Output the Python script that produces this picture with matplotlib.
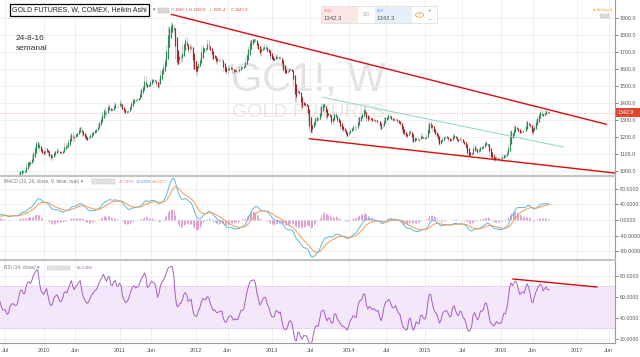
import numpy as np
import pandas as pd
import matplotlib
matplotlib.use('Agg')
import matplotlib.pyplot as plt
import matplotlib.dates as mdates
from matplotlib.patches import Rectangle, Circle

plt.rcParams['font.family'] = ['Liberation Sans', 'DejaVu Sans']

c2009 = [878, 853, 836, 899, 928, 913, 943, 1002, 942, 940, 930, 953, 923,
         898, 882, 869, 912, 884, 914, 930, 958, 979, 962, 939, 935, 940,
         929, 911, 937, 953, 954, 956, 947, 952, 956, 996, 1007, 1004, 991,
         1003, 1049, 1052, 1057, 1045, 1096, 1118, 1147, 1177, 1163, 1120, 1111, 1104]
c2010 = [1097, 1138, 1131, 1092, 1083, 1066, 1094, 1120, 1118, 1135, 1104, 1105, 1106,
         1126, 1162, 1136, 1156, 1180, 1210, 1230, 1177, 1213, 1219, 1228, 1256, 1256,
         1208, 1210, 1189, 1188, 1182, 1204, 1215, 1227, 1236, 1248, 1246, 1276, 1297,
         1318, 1346, 1372, 1325, 1357, 1397, 1367, 1352, 1363, 1406, 1385, 1379, 1380, 1420]
c2011 = [1368, 1360, 1343, 1340, 1349, 1360, 1388, 1409, 1430, 1420, 1419, 1429,
         1429, 1474, 1486, 1508, 1556, 1492, 1493, 1510, 1536, 1542, 1529, 1539, 1500,
         1487, 1541, 1592, 1601, 1628, 1663, 1744, 1852, 1828, 1877, 1856, 1813, 1658, 1624,
         1636, 1682, 1642, 1745, 1755, 1788, 1724, 1696, 1748, 1713, 1598, 1606, 1565]
c2012 = [1617, 1639, 1663, 1739, 1725, 1725, 1724, 1775, 1710, 1713, 1659, 1662, 1669,
         1631, 1659, 1642, 1663, 1645, 1580, 1592, 1573, 1622, 1592, 1627, 1572, 1598,
         1580, 1591, 1581, 1619, 1608, 1620, 1616, 1672, 1692, 1738, 1768, 1774, 1776,
         1780, 1757, 1724, 1712, 1676, 1733, 1714, 1750, 1714, 1703, 1696, 1657, 1656]
c2013 = [1649, 1661, 1687, 1658, 1669, 1667, 1609, 1581, 1576, 1578, 1592, 1608, 1596,
         1581, 1501, 1405, 1462, 1469, 1448, 1365, 1386, 1393, 1383, 1387, 1298, 1234,
         1223, 1277, 1295, 1323, 1309, 1313, 1375, 1395, 1396, 1387, 1308, 1326, 1338,
         1309, 1268, 1315, 1352, 1315, 1285, 1287, 1244, 1251, 1231, 1235, 1203, 1214]
c2014 = [1238, 1248, 1254, 1270, 1240, 1263, 1318, 1323, 1326, 1339, 1381, 1335, 1294,
         1304, 1319, 1293, 1300, 1302, 1288, 1293, 1292, 1246, 1253, 1275, 1315, 1316,
         1320, 1337, 1310, 1307, 1294, 1309, 1305, 1280, 1287, 1268, 1231, 1216, 1218,
         1192, 1222, 1239, 1232, 1171, 1168, 1186, 1201, 1175, 1191, 1222, 1195, 1195]
c2015 = [1189, 1216, 1276, 1292, 1278, 1234, 1227, 1204, 1212, 1164, 1152, 1183, 1199,
         1201, 1204, 1203, 1179, 1174, 1189, 1225, 1204, 1190, 1172, 1180, 1201, 1173,
         1163, 1157, 1131, 1086, 1094, 1093, 1113, 1159, 1133, 1121, 1103, 1137, 1145,
         1136, 1155, 1177, 1162, 1142, 1088, 1081, 1076, 1057, 1084, 1075, 1065, 1076]
c2016 = [1061, 1098, 1090, 1096, 1116, 1157, 1239, 1230, 1222, 1270, 1259, 1255, 1221,
         1222, 1240, 1234, 1233, 1294, 1290, 1273, 1252, 1212, 1243, 1275, 1298, 1322,
         1339, 1358, 1328, 1323, 1358, 1344, 1343, 1342.9]

closes = np.array(c2009 + c2010 + c2011 + c2012 + c2013 + c2014 + c2015 + c2016, float)
dates = pd.date_range('2009-01-02', periods=len(closes), freq='W-FRI')
xd = mdates.date2num(dates)

# heikin ashi
op = np.r_[closes[0], closes[:-1]]
ha_c = (op + closes) / 2.0
ha_o = np.zeros_like(ha_c)
ha_o[0] = ha_c[0]
for i in range(1, len(ha_c)):
    ha_o[i] = (ha_o[i - 1] + ha_c[i - 1]) / 2.0
ha_h = np.maximum.reduce([op, closes, ha_o, ha_c])
ha_l = np.minimum.reduce([op, closes, ha_o, ha_c])

# indicators on HA close
s = pd.Series(ha_c)
macd = s.ewm(span=12, adjust=False).mean() - s.ewm(span=26, adjust=False).mean()
signal = macd.ewm(span=9, adjust=False).mean()
hist = macd - signal
d = s.diff()
up = d.clip(lower=0).ewm(alpha=1/14, adjust=False).mean()
dn = (-d.clip(upper=0)).ewm(alpha=1/14, adjust=False).mean()
rsi = 100 - 100 / (1 + up / dn)

tick_dates = ['2009-07-01', '2010-01-01', '2010-06-01', '2011-01-01', '2011-06-01',
              '2012-01-01', '2012-06-01', '2013-01-01', '2013-07-01', '2014-01-01',
              '2014-07-01', '2015-01-01', '2015-07-01', '2016-01-01', '2016-06-01',
              '2017-01-01', '2017-06-01']
tick_labels = ['Jul', '2010', 'Jun', '2011', 'Jun', '2012', 'Jun', '2013', 'Jul',
               '2014', 'Jul', '2015', 'Jul', '2016', 'Jun', '2017', 'Jun']
tx = mdates.date2num(pd.to_datetime(tick_dates))

W, H = 640, 357
fig = plt.figure(figsize=(6.4, 3.57), dpi=100)
fig.patch.set_facecolor('white')


def pane(y0, y1):
    return fig.add_axes([0, 1 - y1 / H, 615 / W, (y1 - y0) / H])


def ftext(x, y, txt, **kw):
    kw.setdefault('va', 'center')
    return fig.text(x / W, 1 - y / H, txt, **kw)


xlim = mdates.date2num(pd.to_datetime(['2009-06-06', '2017-07-01']))
grid_c = '#ececec'
lab_c = '#555555'
sep_c = '#c4c4c4'


def style(ax, ylim, yt, fmt):
    ax.set_xlim(*xlim)
    ax.set_ylim(*ylim)
    ax.set_xticks(tx)
    ax.set_yticks(yt)
    ax.set_yticklabels([fmt % v for v in yt])
    ax.yaxis.tick_right()
    ax.tick_params(axis='y', labelsize=3.8, colors=lab_c, length=2, width=0.5, pad=1.5)
    ax.tick_params(axis='x', length=0, labelbottom=False)
    ax.grid(True, color=grid_c, lw=0.6)
    ax.set_axisbelow(True)
    for sp in ['left', 'top']:
        ax.spines[sp].set_visible(False)
    ax.spines['right'].set_color('#9a9a9a')
    ax.spines['right'].set_linewidth(0.8)
    ax.spines['bottom'].set_color(sep_c)
    ax.spines['bottom'].set_linewidth(0.8)


# ---- price pane
ax = pane(0, 175)
style(ax, (976.5, 2006), list(range(1000, 2000, 100)), '%.1f')
ax.text(0.502, 0.545, 'GC1!, W', transform=ax.transAxes, fontsize=29, color='#e2e2e2',
        ha='center', va='center', zorder=0)
ax.text(0.502, 0.355, 'GOLD FUTURES', transform=ax.transAxes, fontsize=14, color='#e8e8e8',
        ha='center', va='center', zorder=0)
ax.axhline(1342.9, color='#f2b8a8', lw=0.6, ls=(0, (1, 1)), zorder=1)
ax.vlines(xd, ha_l, ha_h, color='#b8b8b8', lw=0.5, zorder=2)
bull = ha_c >= ha_o
bot = np.minimum(ha_o, ha_c)
top = np.maximum(ha_o, ha_c)
top = np.where(top - bot < 2, bot + 2, top)
ax.vlines(xd[bull], bot[bull], top[bull], color='#2f8a57', lw=0.85, zorder=3)
ax.vlines(xd[~bull], bot[~bull], top[~bull], color='#a3262a', lw=0.85, zorder=3)

up_line = (['2011-09-06', '2017-05-20'], [1921, 1275])
low_line = (['2013-06-28', '2017-07-01'], [1190, 988])
mid_line = (['2013-08-28', '2016-10-27'], [1434, 1141])
for (dd, vv), col, lw in [(up_line, '#dd0a0a', 1.0), (low_line, '#dd0a0a', 1.0),
                          (mid_line, '#8fd3c8', 0.7)]:
    ax.plot(mdates.date2num(pd.to_datetime(dd)), vv, color=col, lw=lw, zorder=4)

# ---- MACD pane
am = pane(176, 259)
style(am, (-100.6, 113.5), [-80, -40, 0, 40, 80], '%.4f')
am.spines['top'].set_visible(True)
am.spines['top'].set_color(sep_c)
am.spines['top'].set_linewidth(0.8)
am.vlines(xd, 0, hist, color='#de9fd0', lw=0.7, zorder=2)
am.plot(xd, macd, color='#5cb8e6', lw=0.7, zorder=3)
am.plot(xd, signal, color='#f29a50', lw=0.7, zorder=3)

# ---- RSI pane
ar = pane(260, 343)
style(ar, (16.2, 94.9), [20, 40, 60, 80], '%.4f')
ar.spines['top'].set_visible(True)
ar.spines['top'].set_color(sep_c)
ar.spines['top'].set_linewidth(0.8)
ar.spines['bottom'].set_color('#9a9a9a')
ar.axhspan(30, 70, color='#f4e6fb', zorder=0)
ar.axhline(70, color='#c9b6d3', lw=0.5, ls=(0, (2, 2)))
ar.axhline(30, color='#c9b6d3', lw=0.5, ls=(0, (2, 2)))
ar.plot(xd, rsi, color='#a65cc2', lw=0.7, zorder=3)
rsi_line = (['2016-02-28', '2017-04-05'], [76.9, 69.3])
ar.plot(mdates.date2num(pd.to_datetime(rsi_line[0])), rsi_line[1], color='#dd0a0a', lw=1.0, zorder=4)
ar.tick_params(axis='x', labelbottom=True, labelsize=4.0, colors=lab_c, pad=3.5)
ar.set_xticklabels(tick_labels)

# ---- overlays / header text
ftext(12, 10, 'GOLD FUTURES, W, COMEX, Heikin Ashi', fontsize=5.0, color='#222222',
      bbox=dict(boxstyle='square,pad=0.35', fc='white', ec='black', lw=0.9))
ftext(153, 10, '\u25be', fontsize=3.5, color='#666666')
for xx in (158, 164):
    fig.add_artist(Rectangle((xx / W, 1 - 12.5 / H), 5 / W, 5 / H, fc='#dddddd', ec='#aaaaaa', lw=0.3))
ohlc = [(171, 'O', '#777777'), (174.5, '1346.3', '#e05555'), (189, 'H', '#777777'),
        (192.5, '1348.8', '#e05555'), (210, 'L', '#777777'), (213, '1335.4', '#e05555'),
        (231, 'C', '#777777'), (234.5, '1342.9', '#e05555')]
for xx, tt, cc in ohlc:
    ftext(xx, 10, tt, fontsize=3.2, color=cc)
ftext(16, 38, '24-8-16', fontsize=6, color='#333333')
ftext(16, 49, 'semanal', fontsize=6, color='#333333')

# trade widget
fig.add_artist(Rectangle((321 / W, 1 - 23 / H), 116 / W, 17 / H, fc='white', ec='#d8d8d8', lw=0.5))
fig.add_artist(Rectangle((322 / W, 1 - 22.5 / H), 36 / W, 16 / H, fc='#fbe7e5', ec='none'))
fig.add_artist(Rectangle((375 / W, 1 - 22.5 / H), 37 / W, 16 / H, fc='#e6f0fb', ec='none'))
ftext(324, 11, 'SELL', fontsize=2.6, color='#e06060')
ftext(324, 18.5, '1342.3', fontsize=4.3, color='#555555')
ftext(366, 15, '0.0', fontsize=3.5, color='#999999', ha='center')
ftext(377, 11, 'BUY', fontsize=2.6, color='#4a90d9')
ftext(377, 18.5, '1342.3', fontsize=4.3, color='#555555')
fig.add_artist(Circle((419.5 / W, 1 - 15 / H), 4 / W, fc='white', ec='#f5a03a', lw=0.6))
ftext(419.5, 15, 'i', fontsize=3.5, color='#f5a03a', ha='center')
ftext(430, 10.5, '+', fontsize=4.5, color='#3aaa55', ha='center')
ftext(430, 19.5, '\u2013', fontsize=4.5, color='#e05555', ha='center')

ftext(593, 10, '\u25cf delayed', fontsize=3.2, color='#f5a03a')
for xx in (600, 605):
    fig.add_artist(Rectangle((xx / W, 1 - 18 / H), 4 / W, 4 / H, fc='#dddddd', ec='#bbbbbb', lw=0.3))

# last price tag
fig.add_artist(Rectangle((616 / W, 1 - 117.5 / H), 24 / W, 9.5 / H, fc='#e0452e', ec='none'))
ftext(618, 112.7, '1342.9', fontsize=3.8, color='white')

# indicator legends
ftext(4, 182, 'MACD (12, 26, close, 9, false, true) \u25be', fontsize=3.4, color='#777777')
for xx in (92, 98, 104, 110):
    fig.add_artist(Rectangle((xx / W, 1 - 184 / H), 4.5 / W, 4.5 / H, fc='#e6e6e6', ec='#bbbbbb', lw=0.3))
ftext(119, 182, '-9.7379', fontsize=3.2, color='#e0609e')
ftext(135.5, 182, '39.8898', fontsize=3.2, color='#4aa8dc')
ftext(152, 182, '49.6277', fontsize=3.2, color='#f08a30')

ftext(4, 268, 'RSI (14, close) \u25be', fontsize=3.4, color='#777777')
for xx in (47, 53, 59, 65):
    fig.add_artist(Rectangle((xx / W, 1 - 270 / H), 4.5 / W, 4.5 / H, fc='#e6e6e6', ec='#bbbbbb', lw=0.3))
ftext(77, 268, '65.5368', fontsize=3.2, color='#a65cc2')

fig.savefig('out.png', dpi=100, facecolor='white')
